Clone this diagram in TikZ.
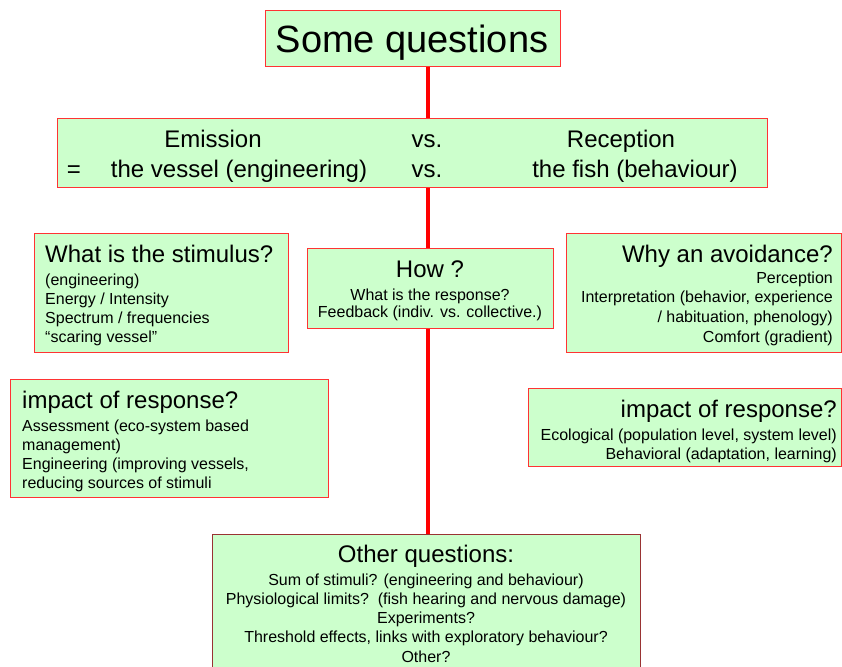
\documentclass[tikz,border=0pt]{standalone}
\usepackage{fontspec}
\setmainfont{Liberation Sans}
\usetikzlibrary{backgrounds}
\definecolor{boxfill}{HTML}{CCFFCC}
\definecolor{boxline}{HTML}{FF3333}
\definecolor{darkline}{HTML}{993333}
\definecolor{spinered}{HTML}{FF0000}
\tikzset{
  qbox/.style={draw=boxline, line width=1pt, fill=boxfill, rectangle, inner sep=0pt, anchor=north west},
  big/.style={inner sep=0pt, anchor=base, font=\fontsize{38}{44}\selectfont},
  ttl/.style={inner sep=0pt, font=\fontsize{24}{28}\selectfont},
  sml/.style={inner sep=0pt, font=\fontsize{16}{19}\selectfont},
  spine/.style={draw=spinered, line width=4pt}
}
\begin{document}
\begin{tikzpicture}[x=1pt,y=-1pt]
\useasboundingbox (0,0) rectangle (842,666);
% boxes
\node[qbox, minimum width=295pt, minimum height=56pt] (top) at (265,10) {};
\node[qbox, minimum width=710pt, minimum height=69pt] (em) at (57,118) {};
\node[qbox, minimum width=254pt, minimum height=119pt] (stim) at (34,233) {};
\node[qbox, minimum width=246pt, minimum height=80pt] (how) at (307,248) {};
\node[qbox, minimum width=275pt, minimum height=119pt] (why) at (566,233) {};
\node[qbox, minimum width=318pt, minimum height=118pt] (impl) at (10,379) {};
\node[qbox, minimum width=313pt, minimum height=78pt] (impr) at (528,388) {};
\node[qbox, draw=darkline, minimum width=428pt, minimum height=150pt] (other) at (212,534) {};
% spine
\coordinate (spinex) at (428,0);
\begin{scope}[on background layer]
\draw[spine] (top.south -| spinex) -- (other.north -| spinex);
\end{scope}
% top
\node[big] (t0) at (412,53) {Some questions};
% emission vs reception
\node[ttl, anchor=base] (e1) at (213,147) {Emission};
\node[ttl, anchor=base] (e2) at (427,147) {vs.};
\node[ttl, anchor=base] (e3) at (621,147) {Reception};
\node[ttl, anchor=base] (e4) at (74,177) {=};
\node[ttl, anchor=base] (e5) at (239,177) {the vessel (engineering)};
\node[ttl, anchor=base] (e6) at (427,177) {vs.};
\node[ttl, anchor=base] (e7) at (635,177) {the fish (behaviour)};
% stimulus
\node[ttl, anchor=base west] (s0) at (45,262) {What is the stimulus?};
\node[sml, anchor=base west] (s1) at (45,285) {(engineering)};
\node[sml, anchor=base west] (s2) at (45,304) {Energy / Intensity};
\node[sml, anchor=base west] (s3) at (45,323) {Spectrum / frequencies};
\node[sml, anchor=base west] (s4) at (45,342) {“scaring vessel”};
% how
\node[ttl, anchor=base] (h0) at (430,277) {How ?};
\node[sml, anchor=base] (h1) at (430,300) {What is the response?};
\node[sml, anchor=base] (h2) at (430,317) {Feedback (indiv. vs. collective.)};
% why
\node[ttl, anchor=base east] (w0) at (833,262) {Why an avoidance?};
\node[sml, anchor=base east] (w1) at (833,283) {Perception};
\node[sml, anchor=base east] (w2) at (833,302) {Interpretation (behavior, experience};
\node[sml, anchor=base east] (w3) at (833,322) {/ habituation, phenology)};
\node[sml, anchor=base east] (w4) at (833,342) {Comfort (gradient)};
% impact left
\node[ttl, anchor=base west] (l0) at (22,408) {impact of response?};
\node[sml, anchor=base west] (l1) at (22,431) {Assessment (eco-system based};
\node[sml, anchor=base west] (l2) at (22,450) {management)};
\node[sml, anchor=base west] (l3) at (22,469) {Engineering (improving vessels,};
\node[sml, anchor=base west] (l4) at (22,488) {reducing sources of stimuli};
% impact right
\node[ttl, anchor=base east] (r0) at (837,417) {impact of response?};
\node[sml, anchor=base east] (r1) at (837,440) {Ecological (population level, system level)};
\node[sml, anchor=base east] (r2) at (837,459) {Behavioral (adaptation, learning)};
% other
\node[ttl, anchor=base] (o0) at (426,562) {Other questions:};
\node[sml, anchor=base] (o1) at (426,585) {Sum of stimuli? (engineering and behaviour)};
\node[sml, anchor=base] (o2) at (426,604) {Physiological limits?\ \ (fish hearing and nervous damage)};
\node[sml, anchor=base] (o3) at (426,623) {Experiments?};
\node[sml, anchor=base] (o4) at (426,642) {Threshold effects, links with exploratory behaviour?};
\node[sml, anchor=base] (o5) at (426,662) {Other?};
\end{tikzpicture}
\end{document}
